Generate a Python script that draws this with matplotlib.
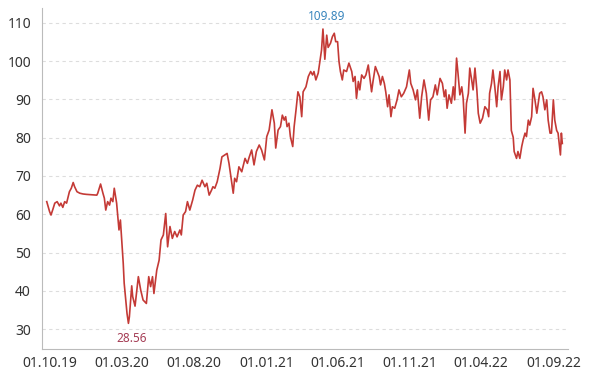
import numpy as np
import pandas as pd
import matplotlib
matplotlib.use("Agg")
import matplotlib.pyplot as plt
import matplotlib.dates as mdates

dates = [
    "2019-09-24", "2019-09-30", "2019-10-03", "2019-10-07", "2019-10-11", "2019-10-16",
    "2019-10-21", "2019-10-24", "2019-10-28", "2019-11-01", "2019-11-05", "2019-11-11",
    "2019-11-15", "2019-11-19", "2019-11-22", "2019-11-27", "2019-12-03", "2019-12-10",
    "2019-12-17", "2019-12-27", "2020-01-08", "2020-01-10", "2020-01-16", "2020-01-21",
    "2020-01-24", "2020-01-27", "2020-01-31", "2020-02-04", "2020-02-07", "2020-02-11",
    "2020-02-14", "2020-02-19", "2020-02-22", "2020-02-24", "2020-02-27", "2020-03-02",
    "2020-03-04", "2020-03-06", "2020-03-10", "2020-03-12", "2020-03-15", "2020-03-17",
    "2020-03-22", "2020-03-24", "2020-03-29", "2020-04-05", "2020-04-10", "2020-04-15",
    "2020-04-22", "2020-04-27", "2020-05-01", "2020-05-05", "2020-05-08", "2020-05-14",
    "2020-05-19", "2020-05-23", "2020-05-28", "2020-06-02", "2020-06-06", "2020-06-11",
    "2020-06-16", "2020-06-21", "2020-06-26", "2020-07-02", "2020-07-05", "2020-07-09",
    "2020-07-14", "2020-07-18", "2020-07-23", "2020-07-29", "2020-08-03", "2020-08-08",
    "2020-08-13", "2020-08-18", "2020-08-24", "2020-08-28", "2020-09-02", "2020-09-07",
    "2020-09-10", "2020-09-14", "2020-09-19", "2020-09-25", "2020-09-29", "2020-10-05",
    "2020-10-10", "2020-10-14", "2020-10-19", "2020-10-23", "2020-10-26", "2020-10-30",
    "2020-11-04", "2020-11-10", "2020-11-17", "2020-11-22", "2020-11-26", "2020-12-01",
    "2020-12-06", "2020-12-11", "2020-12-17", "2020-12-22", "2020-12-28", "2021-01-02",
    "2021-01-07", "2021-01-13", "2021-01-18", "2021-01-21", "2021-01-26", "2021-01-31",
    "2021-02-04", "2021-02-08", "2021-02-11", "2021-02-14", "2021-02-18", "2021-02-21",
    "2021-02-26", "2021-03-01", "2021-03-05", "2021-03-09", "2021-03-13", "2021-03-17",
    "2021-03-20", "2021-03-26", "2021-03-31", "2021-04-05", "2021-04-09", "2021-04-12",
    "2021-04-16", "2021-04-21", "2021-04-25", "2021-04-28", "2021-05-01", "2021-05-05",
    "2021-05-09", "2021-05-12", "2021-05-17", "2021-05-21", "2021-05-25", "2021-05-28",
    "2021-06-01", "2021-06-04", "2021-06-07", "2021-06-11", "2021-06-14", "2021-06-20",
    "2021-06-25", "2021-07-01", "2021-07-04", "2021-07-08", "2021-07-11", "2021-07-15",
    "2021-07-18", "2021-07-22", "2021-07-27", "2021-07-31", "2021-08-05", "2021-08-08",
    "2021-08-12", "2021-08-15", "2021-08-20", "2021-08-24", "2021-08-28", "2021-08-31",
    "2021-09-04", "2021-09-08", "2021-09-11", "2021-09-15", "2021-09-18", "2021-09-22",
    "2021-09-25", "2021-09-30", "2021-10-05", "2021-10-09", "2021-10-14", "2021-10-19",
    "2021-10-25", "2021-10-31", "2021-11-03", "2021-11-08", "2021-11-13", "2021-11-17",
    "2021-11-22", "2021-11-26", "2021-12-01", "2021-12-06", "2021-12-11", "2021-12-15",
    "2021-12-20", "2021-12-25", "2021-12-29", "2022-01-04", "2022-01-09", "2022-01-13",
    "2022-01-16", "2022-01-19", "2022-01-23", "2022-01-28", "2022-02-01", "2022-02-04",
    "2022-02-08", "2022-02-11", "2022-02-15", "2022-02-19", "2022-02-22", "2022-02-26",
    "2022-03-01", "2022-03-05", "2022-03-08", "2022-03-12", "2022-03-15", "2022-03-19",
    "2022-03-23", "2022-03-26", "2022-03-30", "2022-04-04", "2022-04-09", "2022-04-14",
    "2022-04-17", "2022-04-19", "2022-04-23", "2022-04-26", "2022-04-30", "2022-05-04",
    "2022-05-07", "2022-05-11", "2022-05-14", "2022-05-18", "2022-05-21", "2022-05-25",
    "2022-05-28", "2022-06-01", "2022-06-04", "2022-06-08", "2022-06-10", "2022-06-15",
    "2022-06-18", "2022-06-22", "2022-06-26", "2022-06-29", "2022-07-03", "2022-07-06",
    "2022-07-10", "2022-07-13", "2022-07-17", "2022-07-20", "2022-07-24", "2022-07-28",
    "2022-07-31", "2022-08-03", "2022-08-07", "2022-08-10", "2022-08-14", "2022-08-18",
    "2022-08-21", "2022-08-25", "2022-08-28", "2022-09-01", "2022-09-04", "2022-09-08",
    "2022-09-11", "2022-09-16", "2022-09-18", "2022-09-20",
]

prices = [
    63.3, 60.7, 59.8, 61.3, 62.9, 63.3,
    62.2, 62.9, 61.8, 63.3, 62.9, 65.9,
    66.8, 68.3, 67.2, 65.9, 65.5, 65.3,
    65.2, 65.1, 65.0, 65.5, 67.9, 65.5,
    64.2, 61.1, 63.3, 62.4, 64.2, 63.3,
    66.8, 62.9, 58.5, 55.9, 58.5, 50.7,
    47.2, 42.0, 36.7, 34.1, 31.5, 33.2,
    41.3, 38.5, 36.0, 43.7, 40.2, 37.6,
    36.7, 43.7, 41.1, 43.7, 39.3, 45.4,
    48.0, 53.3, 54.6, 60.2, 51.5, 56.8,
    53.7, 55.5, 54.1, 55.9, 54.6, 59.8,
    60.7, 63.3, 61.1, 63.7, 66.3, 67.6,
    67.2, 68.9, 67.2, 68.1, 65.0, 66.3,
    67.2, 66.8, 68.5, 72.0, 75.0, 75.5,
    75.9, 73.3, 68.9, 65.5, 69.4, 68.5,
    72.4, 71.1, 74.6, 73.3, 75.0, 76.8,
    72.9, 76.4, 78.1, 76.8, 74.2, 80.3,
    82.0, 87.3, 83.8, 77.3, 82.0, 82.9,
    85.9, 84.6, 85.5, 82.9, 83.8, 80.3,
    77.7, 82.9, 87.3, 92.0, 90.7, 85.5,
    92.0, 93.3, 96.0, 97.3, 96.4, 97.3,
    95.1, 96.9, 100.3, 102.9, 108.4, 100.5,
    106.8, 103.6, 104.7, 106.4, 107.3, 105.1,
    105.1, 99.9, 97.3, 95.1, 97.7, 97.3,
    99.5, 97.3, 94.7, 96.0, 90.3, 94.7,
    92.5, 96.4, 95.5, 96.4, 99.0, 96.0,
    92.0, 94.7, 98.6, 97.3, 96.0, 93.8,
    96.0, 94.2, 92.0, 88.1, 91.2, 85.5,
    88.1, 87.7, 89.9, 92.5, 90.7, 91.6,
    93.3, 97.7, 94.2, 92.5, 89.9, 92.5,
    85.1, 90.7, 95.1, 91.6, 84.6, 89.9,
    90.7, 93.8, 91.2, 95.5, 94.2, 90.7,
    92.5, 87.7, 91.2, 89.0, 93.3, 89.9,
    100.8, 96.9, 91.2, 93.3, 90.3, 81.2,
    89.0, 91.6, 98.2, 95.1, 92.5, 98.2,
    92.5, 86.4, 83.8, 85.1, 88.1, 87.3,
    85.5, 91.6, 94.2, 97.7, 93.3, 88.1,
    93.3, 97.3, 89.9, 93.3, 97.7, 95.1,
    97.7, 95.1, 81.9, 80.1, 76.4, 74.6,
    76.4, 74.6, 77.7, 79.4, 81.2, 80.3,
    84.6, 83.3, 85.5, 92.9, 89.9, 86.4,
    89.0, 91.6, 92.0, 90.7, 87.3, 89.9,
    84.6, 81.2, 81.2, 89.9, 84.6, 81.9,
    81.2, 75.5, 81.2, 78.5,
]

tick_dates = ["2019-10-01", "2020-03-01", "2020-08-01", "2021-01-01",
              "2021-06-01", "2021-11-01", "2022-04-01", "2022-09-01"]
y_ticks = [30, 40, 50, 60, 70, 80, 90, 100, 110]
max_label = "109.89"
min_label = "28.56"

plt.rcParams['font.family'] = ['Noto Sans', 'DejaVu Sans']

x = pd.to_datetime(dates)
y = np.array(prices)

fig = plt.figure(figsize=(5.97, 3.8), dpi=100)
ax = fig.add_axes([0.0704, 0.0816, 0.881, 0.8974])

ax.plot(x, y, color='#c43a36', lw=1.2)

imax = int(np.argmax(y))
imin = int(np.argmin(y))
ax.annotate(max_label, (x[imax], y[imax]), xytext=(3, 9), textcoords='offset points',
            ha='center', va='center', color='#3a86bd', fontsize=8.5)
ax.annotate(min_label, (x[imin], y[imin]), xytext=(2, -11), textcoords='offset points',
            ha='center', va='center', color='#a53d55', fontsize=8.5)

ax.set_xlim(pd.Timestamp("2019-09-14"), pd.Timestamp("2022-10-02"))
ax.set_ylim(24.8, 113.9)

ax.set_yticks(y_ticks)
ax.set_xticks(pd.to_datetime(tick_dates))
ax.xaxis.set_major_formatter(mdates.DateFormatter('%d.%m.%y'))

ax.grid(axis='y', color='#dddddd', linestyle=(0, (3, 3)), lw=0.8)
ax.set_axisbelow(True)
for s in ['top', 'right']:
    ax.spines[s].set_visible(False)
for s in ['left', 'bottom']:
    ax.spines[s].set_color('#bbbbbb')
ax.tick_params(axis='both', length=0, labelsize=10, labelcolor='#333333')
ax.tick_params(axis='y', pad=8)
ax.tick_params(axis='x', pad=5)

fig.savefig('out.png', dpi=100)
